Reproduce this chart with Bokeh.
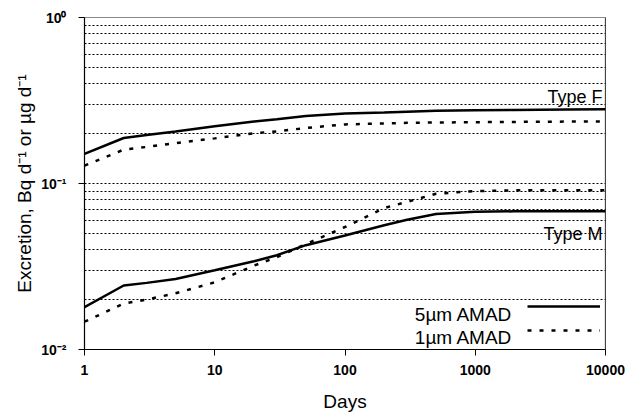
from bokeh.plotting import figure
from bokeh.models import (FixedTicker, CustomJSTickFormatter, Legend, LegendItem,
                          Label, Span)
from bokeh.embed import file_html
from bokeh.resources import INLINE

# ---- data ----
days = [1, 2, 3, 5, 10, 20, 30, 50, 100, 200, 300, 500, 1000, 2000, 5000, 10000]
type_f_5um = [0.151, 0.188, 0.196, 0.206, 0.221, 0.236, 0.244, 0.255, 0.264, 0.268,
              0.271, 0.274, 0.276, 0.277, 0.279, 0.280]
type_f_1um = [0.128, 0.160, 0.166, 0.175, 0.187, 0.201, 0.206, 0.216, 0.227, 0.230,
              0.232, 0.233, 0.234, 0.235, 0.236, 0.236]
type_m_5um = [0.0180, 0.0243, 0.0252, 0.0266, 0.0300, 0.0340, 0.0370, 0.0425, 0.0486,
              0.0560, 0.0605, 0.0655, 0.0675, 0.0680, 0.0680, 0.0680]
type_m_1um = [0.0147, 0.0189, 0.0200, 0.0218, 0.0254, 0.0320, 0.0360, 0.0431, 0.0547,
              0.0712, 0.0775, 0.0868, 0.0900, 0.0910, 0.0912, 0.0912]

x_ticks = [1, 10, 100, 1000, 10000]
y_ticks = [0.01, 0.1, 1]
grid_values = [0.02, 0.03, 0.04, 0.05, 0.06, 0.07, 0.08, 0.09, 0.1,
               0.2, 0.3, 0.4, 0.5, 0.6, 0.7, 0.8, 0.9]
series_labels = ["5\u00b5m AMAD", "1\u00b5m AMAD"]
type_labels = ["Type F", "Type M"]
x_label = "Days"
y_label = "Excretion, Bq d\u207b\u00b9 or \u00b5g d\u207b\u00b9"

FONT = "Liberation Sans"

p = figure(x_axis_type="log", y_axis_type="log", x_range=(1, 10000), y_range=(0.01, 1),
           width=626, height=414,
           min_border_left=84, min_border_right=21, min_border_top=17, min_border_bottom=63,
           output_backend="svg", toolbar_location=None,
           background_fill_color="white", border_fill_color="white")
p.outline_line_color = "#888888"
p.outline_line_width = 1

# grid
p.xgrid.visible = False
p.ygrid.ticker = FixedTicker(ticks=grid_values)
p.ygrid.grid_line_color = "black"
p.ygrid.grid_line_width = 1.1
p.ygrid.grid_line_dash = "2 2"

# axes
for ax in (p.xaxis[0], p.yaxis[0]):
    ax.axis_line_color = "black"
    ax.axis_line_width = 1.2
    ax.major_tick_line_color = "black"
    ax.major_tick_in = 0
    ax.major_tick_out = 6
    ax.minor_tick_line_color = None
    ax.major_label_text_font = FONT
    ax.major_label_text_font_style = "bold"
    ax.major_label_text_font_size = "14px"
    ax.major_label_text_color = "black"
    ax.axis_label_text_font = FONT
    ax.axis_label_text_font_style = "normal"
    ax.axis_label_text_font_size = "19px"
    ax.axis_label_text_color = "black"

p.xaxis.ticker = FixedTicker(ticks=x_ticks)
p.xaxis.formatter = CustomJSTickFormatter(code="return tick.toFixed(0);")
p.xaxis.major_label_standoff = 9
p.xaxis.axis_label = x_label
p.xaxis.axis_label_standoff = 13

p.yaxis.ticker = FixedTicker(ticks=y_ticks)
p.yaxis.formatter = CustomJSTickFormatter(code="""
const sup = {'0':'\\u2070','1':'\\u00b9','2':'\\u00b2','3':'\\u00b3','-':'\\u207b'};
const e = Math.round(Math.log10(tick));
return '10' + String(e).split('').map(c => sup[c]).join('');
""")
p.yaxis.major_label_standoff = 12
p.yaxis.axis_label = y_label
p.yaxis.axis_label_standoff = 3

# right edge line
p.add_layout(Span(location=10000, dimension="height", line_color="black", line_width=1.2))

# curves
lw = 2.5
f5 = p.line(days, type_f_5um, line_color="black", line_width=lw)
f1 = p.line(days, type_f_1um, line_color="black", line_width=lw, line_dash="4 8")
m5 = p.line(days, type_m_5um, line_color="black", line_width=lw)
m1 = p.line(days, type_m_1um, line_color="black", line_width=lw, line_dash="4 8")

# type labels
p.add_layout(Label(x=10000, y=0.33, text=type_labels[0], text_align="right",
                   text_baseline="alphabetic", x_offset=-3, text_font=FONT,
                   text_font_size="18px", text_color="black"))
p.add_layout(Label(x=10000, y=0.0495, text=type_labels[1], text_align="right",
                   text_baseline="alphabetic", x_offset=-3, text_font=FONT,
                   text_font_size="18px", text_color="black"))

# legend: line samples on the right, texts on the left
legend = Legend(items=[LegendItem(label=" ", renderers=[m5]),
                       LegendItem(label=" ", renderers=[m1])],
                location=(443, 9), glyph_width=73, glyph_height=20, label_height=20,
                label_width=0, label_standoff=0, padding=0, spacing=4, margin=0,
                border_line_color=None, background_fill_alpha=0,
                label_text_font_size="1px")
p.add_layout(legend)
p.add_layout(Label(x=1927, y=0.01627, text=series_labels[0], text_align="right",
                   text_baseline="alphabetic", text_font=FONT, text_font_size="19px",
                   text_color="black"))
p.add_layout(Label(x=1927, y=0.01175, text=series_labels[1], text_align="right",
                   text_baseline="alphabetic", text_font=FONT, text_font_size="19px",
                   text_color="black"))

with open("out.html", "w", encoding="utf-8") as f:
    f.write(file_html(p, INLINE))
